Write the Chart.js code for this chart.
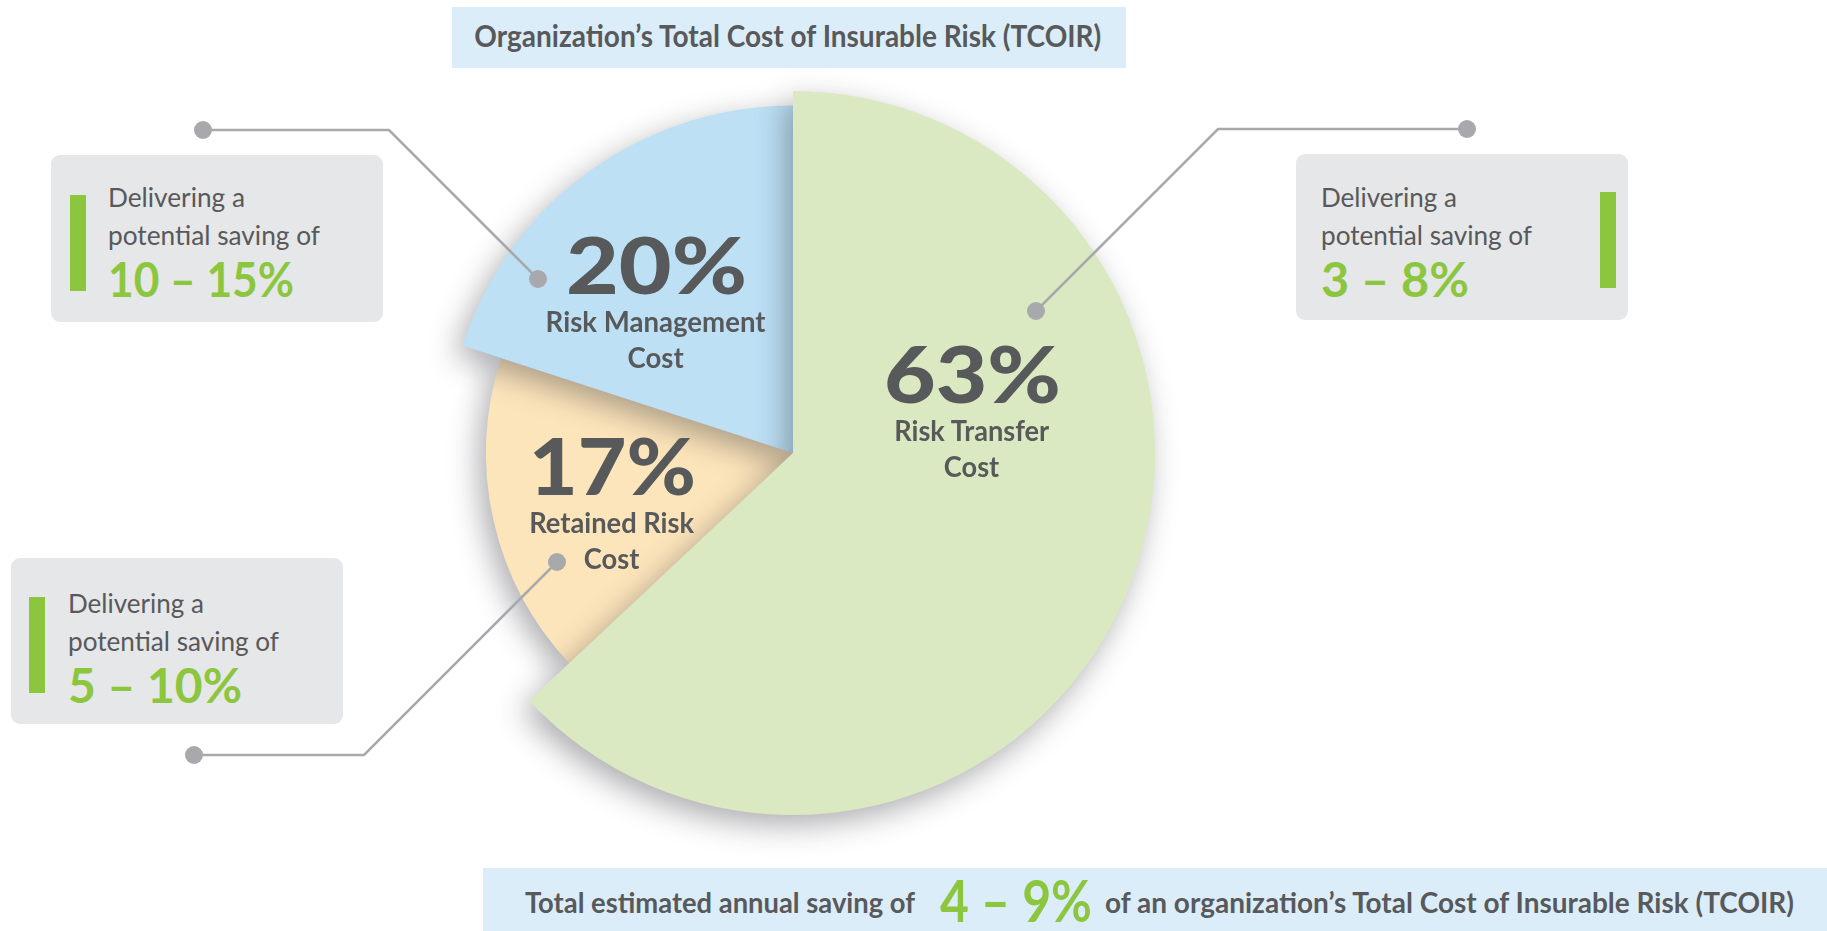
<!DOCTYPE html>
<html>
<head>
<meta charset="utf-8">
<script src="https://cdn.jsdelivr.net/npm/chart.js@4.4.1/dist/chart.umd.min.js"></script>
<style>
  html, body { margin: 0; padding: 0; background: #fff; }
  #page { position: relative; width: 1827px; height: 931px; overflow: hidden; font-family: Lato, "Open Sans", sans-serif; color: #58595b; }
  #pie { position: absolute; left: 0; top: 0; }
  .band { position: absolute; background: #dcedfa; }
  .box { position: absolute; background: #e6e7e8; border-radius: 9px; }
  .mark { position: absolute; background: #8cc63f; }
  .t { position: absolute; white-space: nowrap; line-height: 1; }
  .probe { display: inline-block; width: 0; height: 0; vertical-align: baseline; }
</style>
</head>
<body>
<div id="page">
  <canvas id="pie" width="1827" height="931"></canvas>
</div>
<script>
// cost shares of the TCOIR pie, drawn in this order (orange, blue, green)
const categories = ['Retained Risk Cost', 'Risk Management Cost', 'Risk Transfer Cost'];
const shares = [17, 20, 63];
const savings = ['5 – 10%', '10 – 15%', '3 – 8%'];
const totalSaving = '4 – 9%';

const sliceColors = ['#fde5bb', '#bde0f5', '#dbe9c2'];
const sliceRadius = [0.848, 0.96, 1];   // slices are stepped, not one radius
const GRAY = '#58595b';
const GREEN = '#8cc63f';

const page = document.getElementById('page');
const total = shares.reduce((a, b) => a + b, 0);

// put a line of text with its baseline at y, squeezed/stretched to a width
function putText(txt, x, base, opts) {
    const el = document.createElement('div');
    el.className = 't';
    el.style.font = opts.font;
    el.style.color = opts.color || GRAY;
    el.appendChild(document.createTextNode(txt));
    const probe = document.createElement('span');
    probe.className = 'probe';
    el.appendChild(probe);
    el.style.left = '0px';
    el.style.top = '0px';
    page.appendChild(el);
    const w = el.getBoundingClientRect().width;
    const baseOff = probe.getBoundingClientRect().top - page.getBoundingClientRect().top;
    const sx = opts.width ? opts.width / w : (opts.scale || 1);
    const align = opts.align || 'left';
    const left = align === 'center' ? x - w / 2 : align === 'right' ? x - w : x;
    el.style.left = left + 'px';
    el.style.top = (base - baseOff) + 'px';
    el.style.transformOrigin = align === 'center' ? '50% 0' : align === 'right' ? '100% 0' : '0 0';
    el.style.transform = 'scaleX(' + sx + ')';
    return sx;
}

function addDiv(cls, x, y, w, h) {
    const d = document.createElement('div');
    d.className = cls;
    Object.assign(d.style, { left: x + 'px', top: y + 'px', width: w + 'px', height: h + 'px' });
    page.appendChild(d);
}

const radiusPlugin = {
    id: 'sliceRadius',
    afterDatasetsUpdate(chart) {
        const meta = chart.getDatasetMeta(0);
        meta.data.forEach((arc, i) => {
            arc.outerRadius = meta.controller.outerRadius * sliceRadius[i];
        });
    }
};

const shadowPlugin = {
    id: 'sliceShadow',
    beforeDatasetsDraw(chart) {
        const c = chart.ctx;
        c.save();
        c.shadowColor = 'rgba(40,40,50,0.38)';
        c.shadowBlur = 30;
        c.shadowOffsetX = -7;
        c.shadowOffsetY = 10;
    },
    afterDatasetsDraw(chart) {
        chart.ctx.restore();
    }
};

// leader lines: inner dot relative to pie centre, outer dot next to its box
const leaders = [
    { dx: -236, dy: 109, ox: 194, oy: 755 },
    { dx: -255, dy: -174, ox: 203, oy: 130 },
    { dx: 243, dy: -142, ox: 1467, oy: 129 }
];

const leaderPlugin = {
    id: 'leaders',
    afterDraw(chart) {
        const c = chart.ctx;
        const arc = chart.getDatasetMeta(0).data[0];
        c.save();
        c.strokeStyle = '#a7a9ac';
        c.fillStyle = '#a7a9ac';
        c.lineWidth = 2.5;
        leaders.forEach(l => {
            const ix = arc.x + l.dx, iy = arc.y + l.dy;
            const ex = ix + Math.sign(l.ox - ix) * Math.abs(l.oy - iy);
            c.beginPath();
            c.moveTo(l.ox, l.oy);
            c.lineTo(ex, l.oy);
            c.lineTo(ix, iy);
            c.stroke();
            [[l.ox, l.oy], [ix, iy]].forEach(p => {
                c.beginPath();
                c.arc(p[0], p[1], 9, 0, Math.PI * 2);
                c.fill();
            });
        });
        c.restore();
    }
};

const chart = new Chart(document.getElementById('pie'), {
    type: 'pie',
    data: {
        labels: categories,
        datasets: [{
            data: shares,
            backgroundColor: sliceColors,
            borderWidth: 0,
            clip: false
        }]
    },
    options: {
        responsive: false,
        animation: false,
        events: [],
        rotation: 360 * shares[2] / total,
        layout: { padding: { left: 431, right: 672, top: 91, bottom: 116 } },
        plugins: { legend: { display: false }, tooltip: { enabled: false } }
    },
    plugins: [radiusPlugin, shadowPlugin, leaderPlugin]
});

// header and footer bands
addDiv('band', 452, 7, 674, 61);
putText('Organization’s Total Cost of Insurable Risk (TCOIR)', 788, 47,
    { font: '700 30px Lato', align: 'center', width: 627 });

addDiv('band', 483, 868, 1344, 63);
putText('Total estimated annual saving of', 525, 913, { font: '700 29px Lato', width: 390 });
putText(totalSaving, 940, 922, { font: '700 58px Lato', color: GREEN, width: 152 });
putText('of an organization’s Total Cost of Insurable Risk (TCOIR)', 1105, 913, { font: '700 29px Lato', width: 689 });

// callout boxes, one per slice
const boxes = [
    { x: 11, y: 558, w: 332, h: 166, bar: 29, barY: 597, tx: 68, base: 613, widths: [136, 211, 174] },
    { x: 51, y: 155, w: 332, h: 167, bar: 70, barY: 195, tx: 108, base: 207, widths: [137, 212, 186] },
    { x: 1296, y: 154, w: 332, h: 166, bar: 1600, barY: 192, tx: 1321, base: 207, widths: [136, 211, 148] }
];
boxes.forEach((b, i) => {
    addDiv('box', b.x, b.y, b.w, b.h);
    addDiv('mark', b.bar, b.barY, 16, 96);
    putText('Delivering a', b.tx, b.base, { font: '400 26.5px Lato', width: b.widths[0] });
    putText('potential saving of', b.tx, b.base + 38, { font: '400 26.5px Lato', width: b.widths[1] });
    putText(savings[i], b.tx, b.base + 90, { font: '700 47px Lato', color: GREEN, width: b.widths[2] });
});

// slice labels, placed from the pie centre
const arc0 = chart.getDatasetMeta(0).data[0];
const cx = arc0.x, cy = arc0.y;
const sliceLabels = [
    { dx: -181, dy: 42, pw: 167, lw: 165 },
    { dx: -137, dy: -159, pw: 181, lw: 220 },
    { dx: 179, dy: -50, pw: 177, lw: 155 }
];
sliceLabels.forEach((s, i) => {
    const name = categories[i];
    const cut = name.lastIndexOf(' ');
    putText(shares[i] + '%', cx + s.dx, cy + s.dy, { font: '900 78px Lato', align: 'center', width: s.pw });
    const sc = putText(name.slice(0, cut), cx + s.dx, cy + s.dy + 38, { font: '700 29px Lato', align: 'center', width: s.lw });
    putText(name.slice(cut + 1), cx + s.dx, cy + s.dy + 74, { font: '700 29px Lato', align: 'center', scale: sc });
});
</script>
</body>
